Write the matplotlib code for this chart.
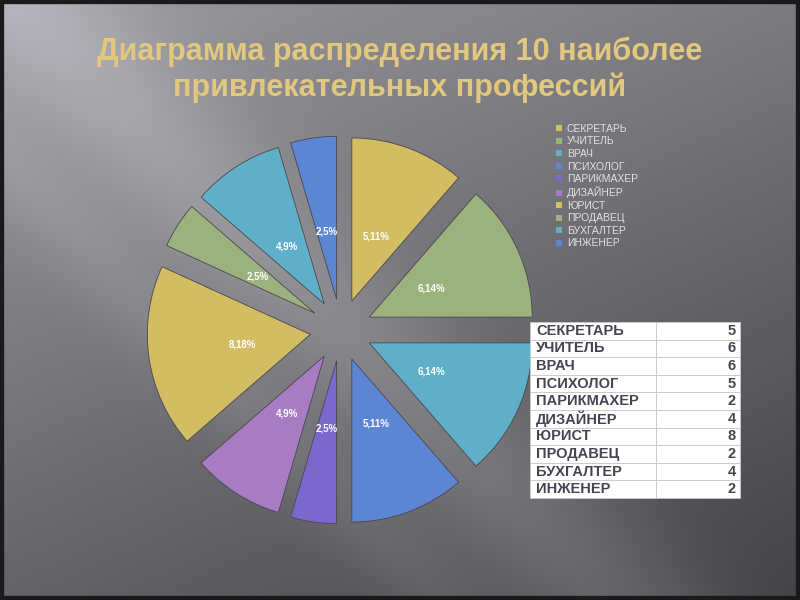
import matplotlib
matplotlib.use("Agg")
import matplotlib.pyplot as plt
import numpy as np
from matplotlib.patches import Rectangle

plt.rcParams["font.family"] = ["Liberation Sans", "DejaVu Sans"]

# data from the slide
professions = ["СЕКРЕТАРЬ", "УЧИТЕЛЬ", "ВРАЧ", "ПСИХОЛОГ", "ПАРИКМАХЕР",
               "ДИЗАЙНЕР", "ЮРИСТ", "ПРОДАВЕЦ", "БУХГАЛТЕР", "ИНЖЕНЕР"]
counts = [5, 6, 6, 5, 2, 4, 8, 2, 4, 2]
title = "Диаграмма распределения 10 наиболее\nпривлекательных профессий"

slice_colors = ["#D3BD63", "#9CB27E", "#60AFC9", "#5C85D4", "#7A68CC",
                "#A87CC2", "#D3BD63", "#9CB27E", "#60AFC9", "#5C85D4"]

W, H = 800, 600
fig = plt.figure(figsize=(8, 6), dpi=100)

# background: grey gradient with a diagonal light streak
bg = fig.add_axes([0, 0, 1, 1])
yy, xx = np.mgrid[0:H, 0:W]
base = 0.61 - 0.22 * (yy / H) - 0.13 * (xx / W)
d = xx - yy
streak = 0.10 * np.exp(-((d - 10) / 110.0) ** 2) + 0.05 * np.exp(-((d + 160) / 60.0) ** 2)
val = np.clip(base + streak, 0, 1)
img = np.dstack([val, val, val * 1.02 + 0.01])
bg.imshow(np.clip(img, 0, 1), extent=[0, W, 0, H], origin="upper", aspect="auto")
bg.add_patch(Rectangle((0, 0), W, H, fill=False, edgecolor="#1a1a1a", linewidth=6))
bg.set_xlim(0, W)
bg.set_ylim(0, H)
bg.axis("off")

fig.text(0.5, 1 - 70 / H, title, ha="center", va="center", fontsize=22,
         fontweight="bold", color="#E2C77F", linespacing=1.22)

# pie
ax = fig.add_axes([0, 0, 1, 1])
ax.set_facecolor("none")
total = sum(counts)


def label_fmt(pct):
    v = int(round(pct * total / 100.0))
    return f"{v},{pct:.0f}%"


wedges, texts, autotexts = ax.pie(
    counts, colors=slice_colors, startangle=90, counterclock=False,
    radius=163, center=(341, H - 330), explode=[31] * len(counts),
    autopct=label_fmt, pctdistance=0.42,
    wedgeprops=dict(edgecolor="#4a4650", linewidth=0.6),
    textprops=dict(color="white", fontsize=7, fontweight="bold"),
)
ax.set_xlim(0, W)
ax.set_ylim(0, H)
ax.set_aspect("equal")
ax.axis("off")

leg = fig.legend(wedges, professions, loc="upper left",
                 bbox_to_anchor=(556 / W, 1 - 124 / H), frameon=False,
                 fontsize=7.5, labelcolor="#E2E2E2", handlelength=0.55,
                 handleheight=0.55, handletextpad=0.5, labelspacing=0.24,
                 borderpad=0, borderaxespad=0)
for h in leg.legend_handles:
    h.set_linewidth(0)

# data table
tax = fig.add_axes([530 / W, 1 - 498 / H, 210 / W, 176 / H])
tax.axis("off")
cells = [[p, str(c)] for p, c in zip(professions, counts)]
tbl = tax.table(cellText=cells, bbox=[0, 0, 1, 1], colWidths=[0.6, 0.4])
tbl.auto_set_font_size(False)
for (r, c), cell in tbl.get_celld().items():
    cell.set_facecolor("white")
    cell.set_edgecolor("#C9C9C9")
    cell.set_linewidth(0.6)
    txt = cell.get_text()
    txt.set_fontsize(10.5)
    txt.set_fontweight("bold")
    txt.set_color("#474352")
    if c == 0:
        cell._loc = "left"
        txt.set_ha("left")
    else:
        cell._loc = "right"
        txt.set_ha("right")
    cell.PAD = 0.05

fig.savefig("out.png", dpi=100)
